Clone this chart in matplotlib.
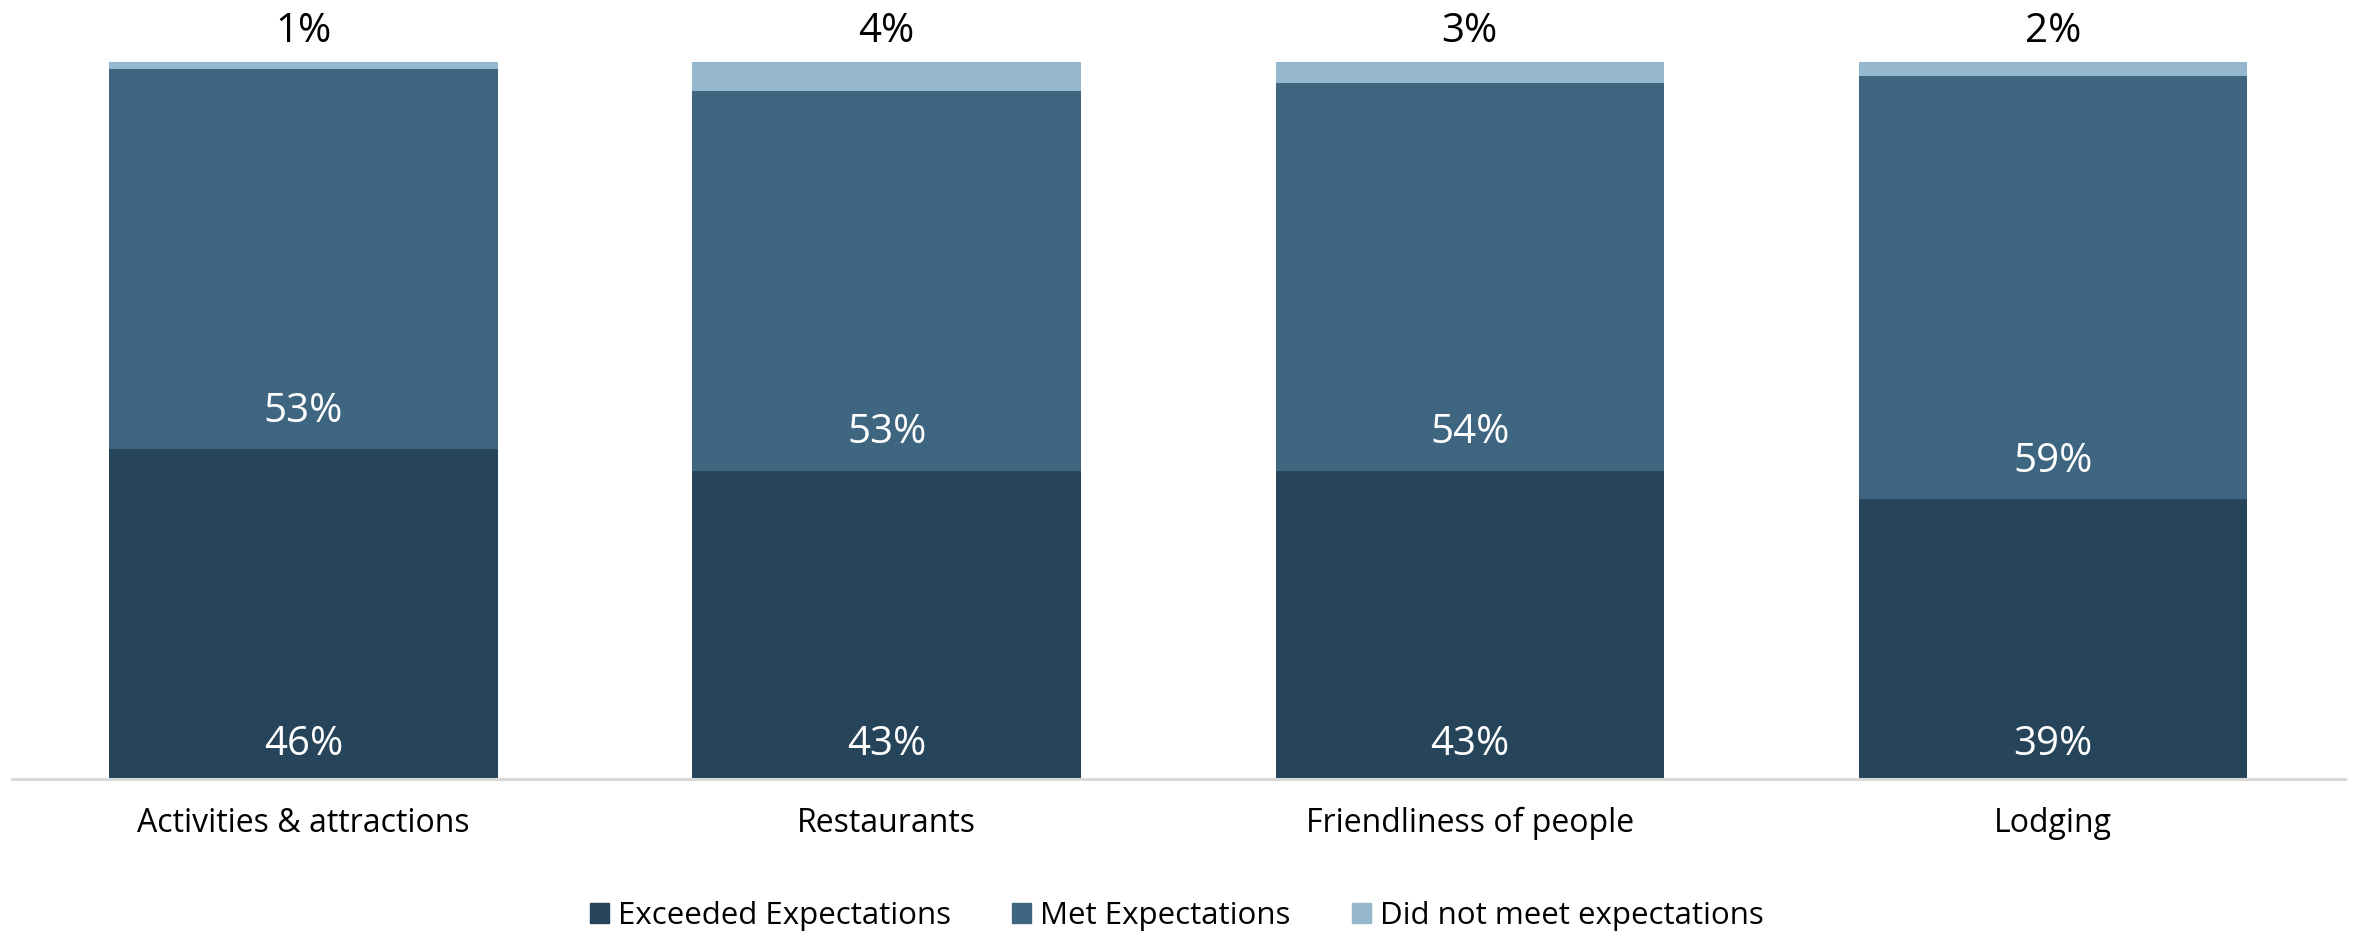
import matplotlib.pyplot as plt
import numpy as np
from matplotlib.patches import Patch

categories = ["Activities & attractions", "Restaurants", "Friendliness of people", "Lodging"]
exceeded = [46, 43, 43, 39]
met = [53, 53, 54, 59]
not_met = [1, 4, 3, 2]
series_names = ["Exceeded Expectations", "Met Expectations", "Did not meet expectations"]

C_EXC = "#27455a"
C_MET = "#3e6681"
C_NOT = "#95b8cf"

plt.rcParams["font.family"] = ["Open Sans", "DejaVu Sans"]

fig = plt.figure(figsize=(23.54, 9.32), dpi=100)
ax = fig.add_axes([0.005, 0.1642, 0.991, 0.7693])

x = np.arange(len(categories))
exc = np.array(exceeded)
mt = np.array(met)
nm = np.array(not_met)
w = 0.666

ax.bar(x, exc, w, color=C_EXC)
ax.bar(x, mt, w, bottom=exc, color=C_MET)
ax.bar(x, nm, w, bottom=exc + mt, color=C_NOT)

for i in range(len(x)):
    ax.text(x[i], 2.0, f"{exc[i]}%", ha="center", va="bottom", color="white", fontsize=29)
    ax.text(x[i], exc[i] + 2.4, f"{mt[i]}%", ha="center", va="bottom", color="white", fontsize=29)
    ax.text(x[i], 101.4, f"{nm[i]}%", ha="center", va="bottom", color="black", fontsize=29,
            clip_on=False)

ax.set_xlim(-0.5, len(categories) - 0.5)
ax.set_ylim(0, 100)
ax.set_yticks([])
ax.set_xticks(x, categories, fontsize=23)
ax.tick_params(axis="x", length=0, pad=20)
for s in ["top", "right", "left"]:
    ax.spines[s].set_visible(False)
ax.spines["bottom"].set_color("#d9d9d9")
ax.spines["bottom"].set_linewidth(2.2)

handles = [Patch(color=c) for c in (C_EXC, C_MET, C_NOT)]
fig.legend(handles, series_names, loc="center", bbox_to_anchor=(0.5, 0.017),
           ncol=3, frameon=False, fontsize=22.5, handlelength=0.6, handleheight=0.6,
           handletextpad=0.3, columnspacing=1.95)

fig.savefig("out.png", dpi=100)
